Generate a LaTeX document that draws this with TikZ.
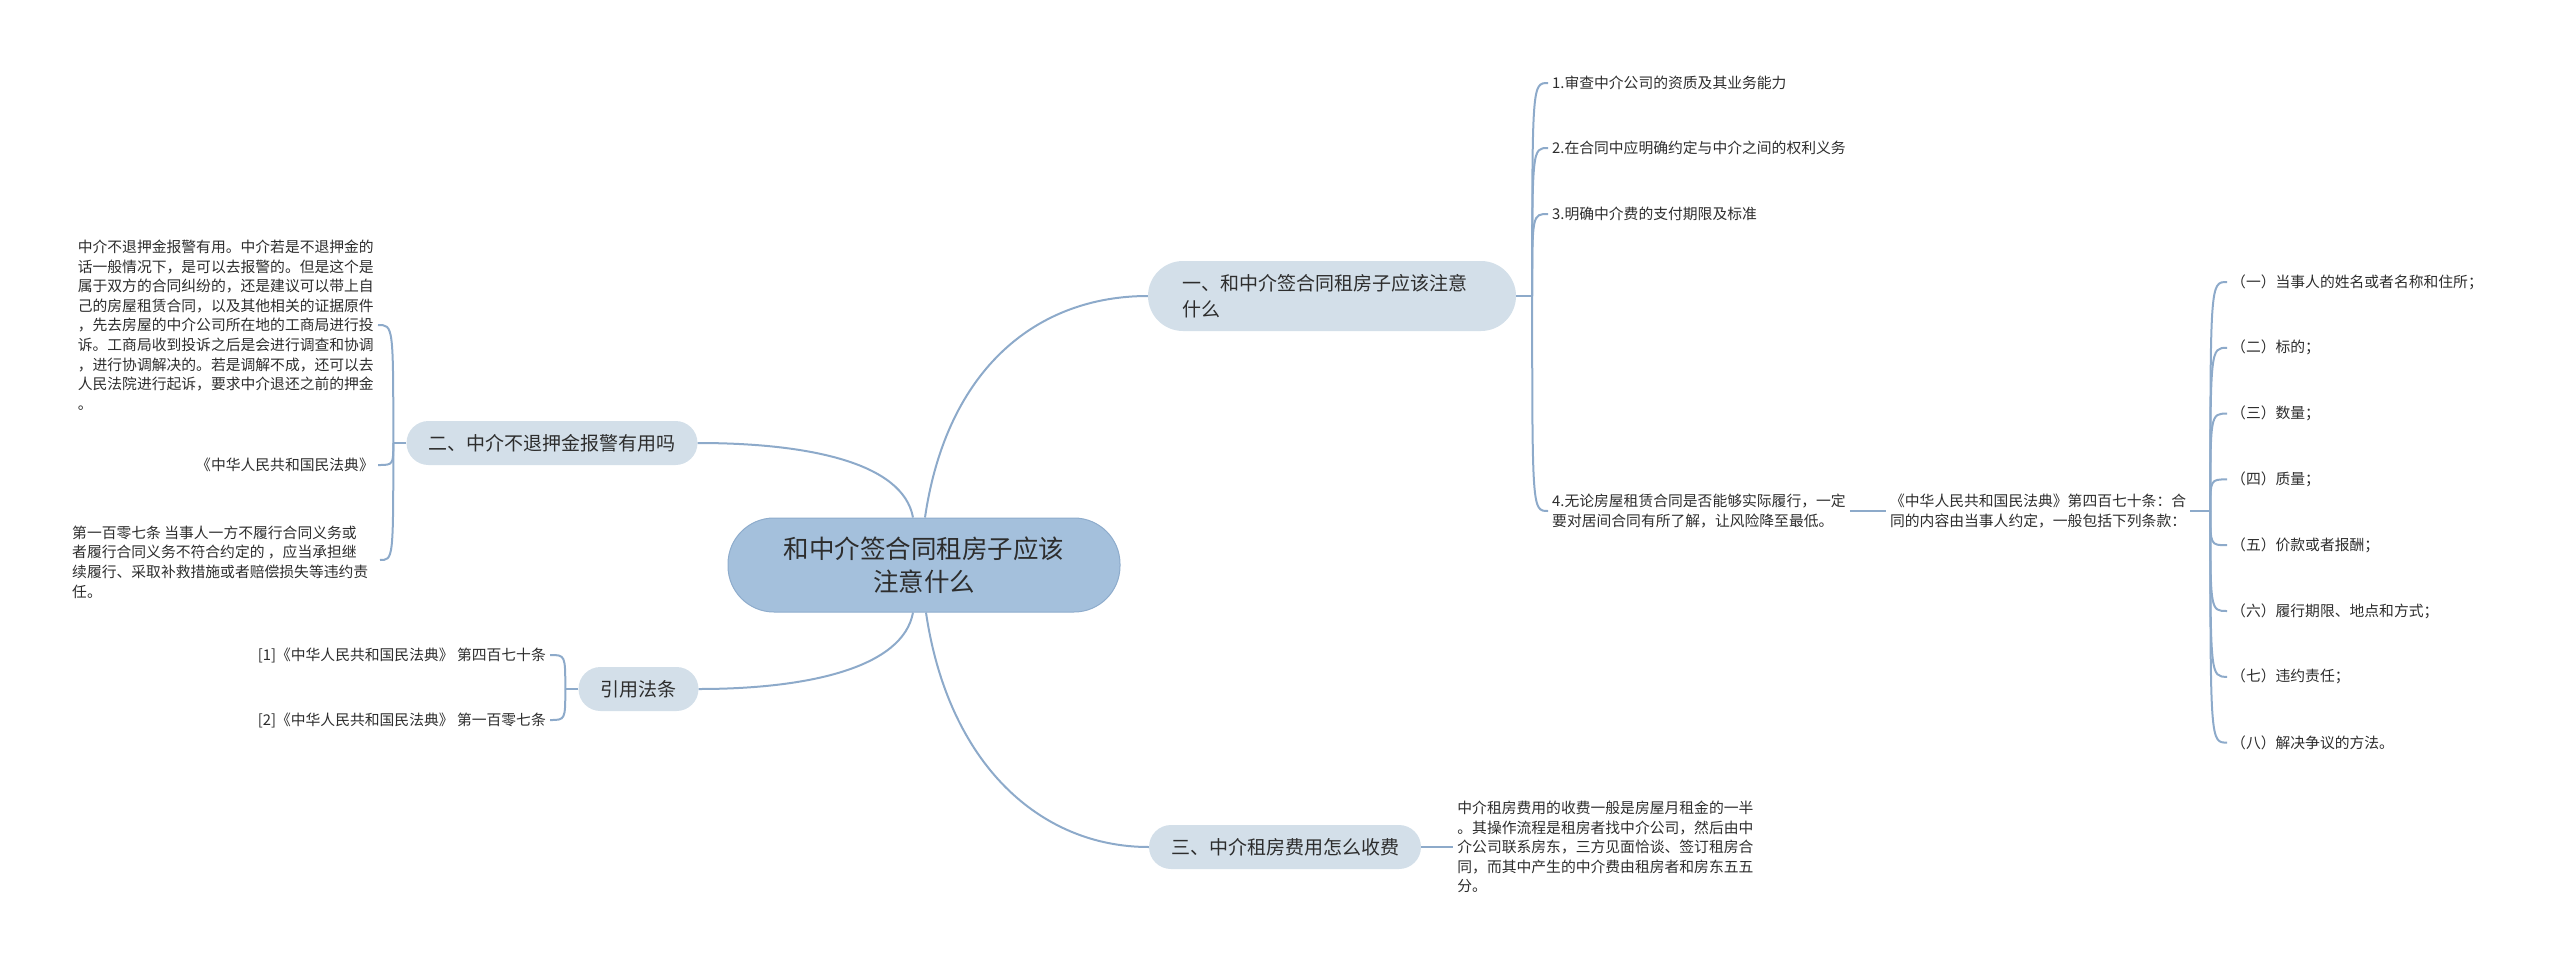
\documentclass[tikz,border=0pt]{standalone}
\usepackage{fontspec}
\setmainfont{Noto Sans CJK SC}
\usetikzlibrary{positioning}

\definecolor{rootfill}{RGB}{164,192,220}
\definecolor{rootline}{RGB}{142,172,204}
\definecolor{topicfill}{RGB}{211,223,233}
\definecolor{linkblue}{RGB}{141,170,202}
\definecolor{ink}{RGB}{45,45,45}

\begin{document}
\begin{tikzpicture}[x=1pt, y=-1pt, text=ink,
  root/.style={draw=rootline, line width=1pt, fill=rootfill, rounded corners=46pt,
    minimum width=392pt, minimum height=94pt, align=center,
    font=\fontsize{25.5}{33}\selectfont},
  topic/.style={fill=topicfill, rounded corners=22pt, minimum height=44pt,
    inner xsep=22pt, font=\fontsize{19}{26}\selectfont},
  leaf/.style={inner xsep=4pt, inner ysep=2pt, align=left,
    font=\fontsize{14.8}{19.6}\selectfont},
  link/.style={draw=linkblue, line width=2pt}]
  \useasboundingbox (0,0) rectangle (2560,967);

  % main topic and branches
  \node[root] (root) at (924,565) {和中介签合同租房子应该\\注意什么};
  \node[topic, rounded corners=35pt, minimum height=70pt, inner xsep=34pt,
    text width=300pt, align=left] (b1) at (1332,296)
    {一、和中介签合同租房子应该注意\\什么};
  \node[topic] (b2) at (552,443) {二、中介不退押金报警有用吗};
  \node[topic] (cite) at (638.5,689) {引用法条};
  \node[topic] (b3) at (1285,847) {三、中介租房费用怎么收费};

  \draw[link] ([xshift=1pt]root.north) .. controls +(22,-150) and +(-110,0) .. (b1.west);
  \draw[link] ([xshift=-11pt]root.north) .. controls +(-10,-55) and +(110,0) .. (b2.east);
  \draw[link] ([xshift=-11pt]root.south) .. controls +(-10,55) and +(110,0) .. (cite.east);
  \draw[link] ([xshift=2pt]root.south) .. controls +(22,150) and +(-110,0) .. (b3.west);

  % branch 1
  \coordinate[right=16pt of b1.east] (j1);
  \node[leaf, anchor=west] (c1) at (1548,83) {1.审查中介公司的资质及其业务能力};
  \node[leaf, anchor=west] (c2) at (1548,148) {2.在合同中应明确约定与中介之间的权利义务};
  \node[leaf, anchor=west] (c3) at (1548,214) {3.明确中介费的支付期限及标准};
  \node[leaf, anchor=west] (c4) at (1548,511)
    {4.无论房屋租赁合同是否能够实际履行，一定\\要对居间合同有所了解，让风险降至最低。};
  \draw[link] (b1.east) -- (j1);
  \foreach \c in {c1,c2,c3,c4}
    \draw[link] (j1) .. controls (j1 |- \c.west) .. (\c.west);

  \node[leaf, right=36pt of c4] (law)
    {《中华人民共和国民法典》第四百七十条：合\\同的内容由当事人约定，一般包括下列条款：};
  \draw[link] (c4) -- (law);
  \coordinate[right=20pt of law.east] (jl);
  \draw[link] (law.east) -- (jl);
  \foreach \t [count=\i] in {{（一）当事人的姓名或者名称和住所；},{（二）标的；},{（三）数量；},
      {（四）质量；},{（五）价款或者报酬；},{（六）履行期限、地点和方式；},
      {（七）违约责任；},{（八）解决争议的方法。}} {
    \node[leaf, anchor=west] (k\i) at (2227,216.2+65.8*\i) {\t};
    \draw[link] (jl) .. controls (jl |- k\i.west) .. (k\i.west);
  }

  % branch 2
  \coordinate[left=13pt of b2.west] (j2);
  \node[leaf, anchor=east] (d1) at (378,325)
    {中介不退押金报警有用。中介若是不退押金的\\话一般情况下，是可以去报警的。但是这个是\\
     属于双方的合同纠纷的，还是建议可以带上自\\己的房屋租赁合同，以及其他相关的证据原件\\
     ，先去房屋的中介公司所在地的工商局进行投\\诉。工商局收到投诉之后是会进行调查和协调\\
     ，进行协调解决的。若是调解不成，还可以去\\人民法院进行起诉，要求中介退还之前的押金\\。};
  \node[leaf, anchor=east] (d2) at (378,465) {《中华人民共和国民法典》};
  \node[leaf, anchor=west] (d3) at (68,562)
    {第一百零七条 当事人一方不履行合同义务或\\者履行合同义务不符合约定的 ，应当承担继\\
     续履行、采取补救措施或者赔偿损失等违约责\\任。};
  \draw[link] (b2.west) -- (j2);
  \draw[link] (j2) .. controls (j2 |- d1.east) .. (d1.east);
  \draw[link] (j2) .. controls (j2 |- d2.east) .. (d2.east);
  \draw[link] (j2) .. controls (j2 |- 380,560) .. (380,560);

  % cited laws
  \coordinate[left=13pt of cite.west] (jc);
  \node[leaf, anchor=east] (l1) at (550,655) {[1]《中华人民共和国民法典》 第四百七十条};
  \node[leaf, anchor=east] (l2) at (550,720) {[2]《中华人民共和国民法典》 第一百零七条};
  \draw[link] (cite.west) -- (jc);
  \draw[link] (jc) .. controls (jc |- l1.east) .. (l1.east);
  \draw[link] (jc) .. controls (jc |- l2.east) .. (l2.east);

  % branch 3
  \node[leaf, right=32pt of b3] (t3)
    {中介租房费用的收费一般是房屋月租金的一半\\。其操作流程是租房者找中介公司，然后由中\\
     介公司联系房东，三方见面恰谈、签订租房合\\同，而其中产生的中介费由租房者和房东五五\\分。};
  \draw[link] (b3) -- (t3);
\end{tikzpicture}
\end{document}
